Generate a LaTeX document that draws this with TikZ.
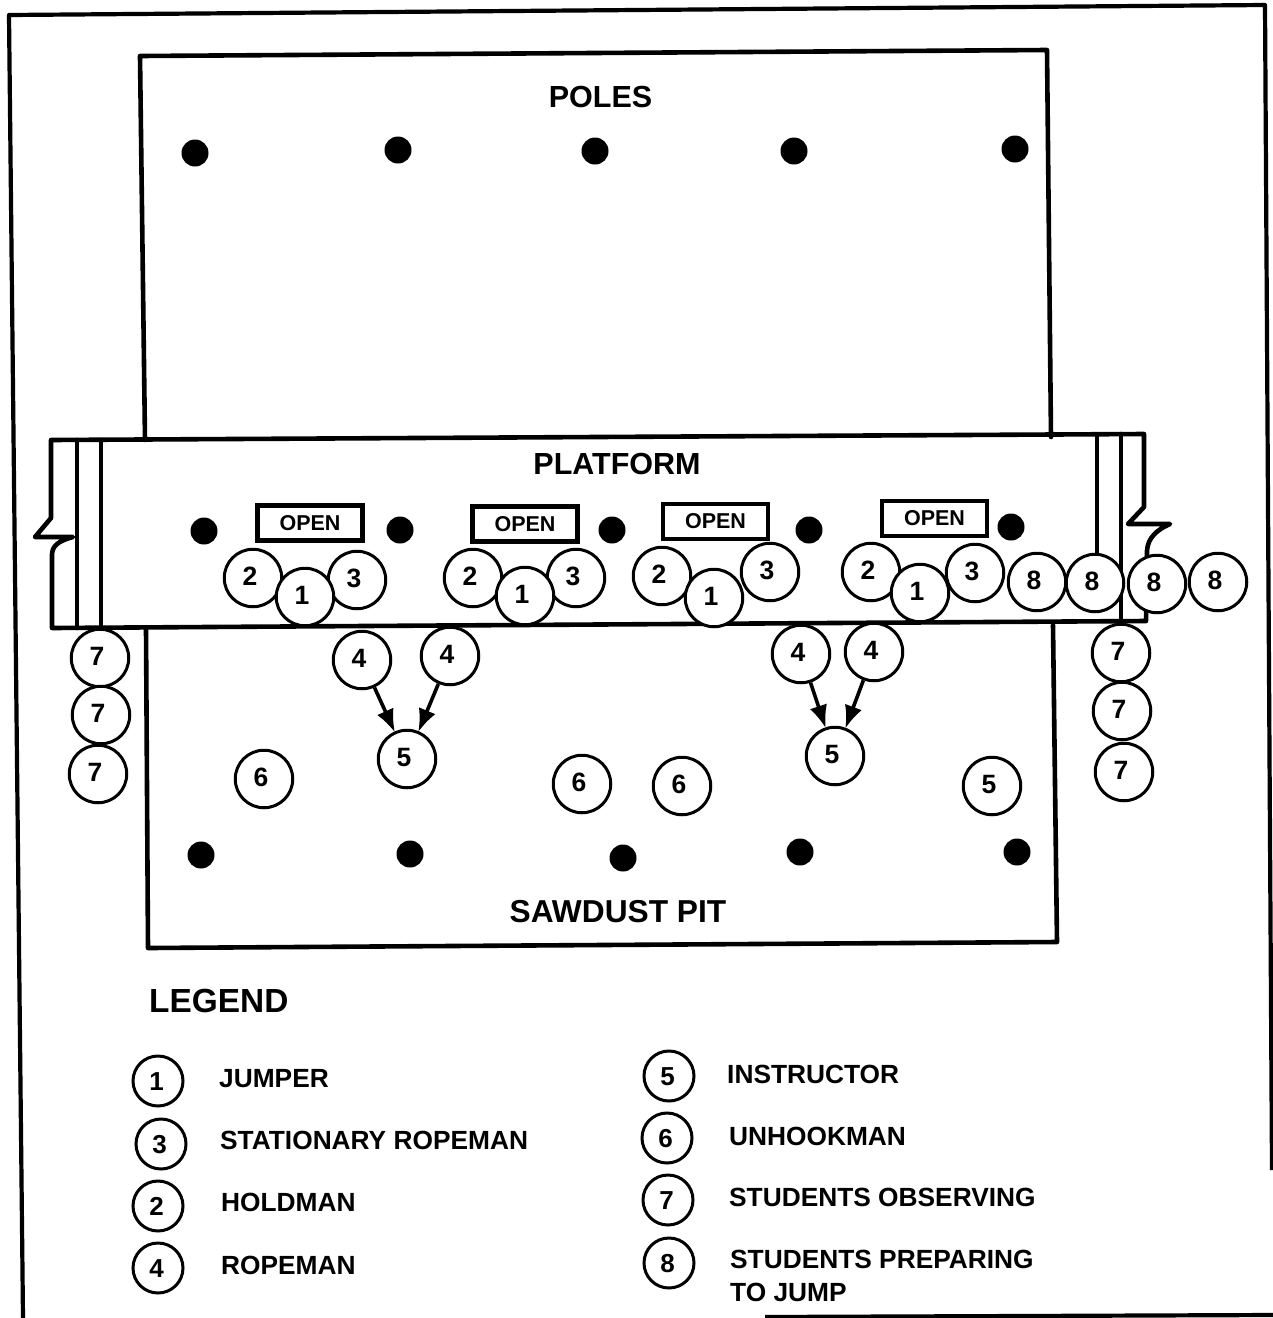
\documentclass[tikz,border=0pt]{standalone}
\usepackage{fontspec}
\setmainfont{Liberation Sans}
\usetikzlibrary{arrows.meta}
\tikzset{
  ink/.style={line width=4.6pt,line join=round,line cap=round,draw=black},
  frameline/.style={line width=4.2pt,draw=black},
  personc/.style={circle,draw=black,fill=white,line width=3pt,minimum size=57.5pt,inner sep=0pt,font=\bfseries\fontsize{26.5}{26.5}\selectfont},
  legendc/.style={circle,draw=black,fill=white,line width=3pt,minimum size=50pt,inner sep=0pt,font=\bfseries\fontsize{26}{26}\selectfont},
  pole/.style={circle,fill=black,minimum size=27pt,inner sep=0pt},
  openbox/.style={rectangle,draw=black,fill=white,line width=4.8pt,minimum width=105pt,minimum height=35pt,inner sep=0pt,font=\bfseries\fontsize{21.5}{21.5}\selectfont},
  title/.style={inner sep=0pt,font=\bfseries\fontsize{30.5}{30.5}\selectfont},
  pittitle/.style={inner sep=0pt,font=\bfseries\fontsize{31.7}{31.7}\selectfont},
  legendhead/.style={inner sep=0pt,anchor=west,font=\bfseries\fontsize{33.4}{33.4}\selectfont},
  legendtext/.style={inner sep=0pt,anchor=west,align=left,font=\bfseries\fontsize{26.3}{33}\selectfont},
  pull/.style={line width=3.6pt,draw=black,-{Latex[length=23pt,width=18pt]},shorten >=-1pt}
}
\newcommand\person[4]{\node[personc] (#1) at (#2,#3) {\kern-3pt\smash{\raisebox{-7pt}{#4}}\kern3pt};}
\newcommand\legendp[4]{\node[legendc] (#1) at (#2,#3) {\kern-1.5pt\smash{\raisebox{-9pt}{#4}}\kern1.5pt};}
\begin{document}
\begin{tikzpicture}[x=1pt,y=-1pt]
\useasboundingbox (0,0) rectangle (1273,1318);
% outer frame
\coordinate (f1) at (23,1318);
\coordinate (f2) at (9,15);
\coordinate (f3) at (1265,5);
\coordinate (f4) at (1272,1170);
\coordinate (f5) at (765,1317);
\coordinate (f6) at (1273,1315);
\draw[frameline,line join=round] (f1) -- (f2) -- (f3) -- (f4);
\draw[frameline] (f5) -- (f6);
% pole area and pit
\draw[ink] (145,440) -- (140,56) -- (1047,50) -- (1051,437);
\draw[ink] (146,628) -- (148,948) -- (1057,942) -- (1053,625);
% platform
\draw[ink] (1144,434) -- (51,440) -- (51,518) -- (35,537) -- (73,537) .. controls (58,541) and (52,546) .. (52,555) -- (52,628) -- (1146,621) -- (1147,556) .. controls (1146,542) and (1152,532) .. (1170,524) -- (1128,524) -- (1144,507) -- cycle;
\draw[ink] (77,440) -- (77,628);
\draw[ink] (101,440) -- (101,628);
\draw[ink] (1097,436) -- (1097,560);
\draw[ink] (1121,434) -- (1121,622);
% text titles
\node[title] (tpoles) at (600.5,97) {POLES};
\node[title] (tplatform) at (617,464) {PLATFORM};
\node[pittitle] (tpit) at (618,912) {SAWDUST PIT};
% poles
\foreach \n/\x/\y in {a/195/153,b/398/150,c/595/151,d/794/151,e/1015/149,
  f/204/531,g/400/530,h/612/530,i/809/530,j/1011/527,
  k/201/855,l/410/854,m/623/858,n/800/852,o/1017/852}
  \node[pole] (pole\n) at (\x,\y) {};
% open boxes
\node[openbox] (open1) at (310,523) {OPEN};
\node[openbox] (open2) at (525,524) {OPEN};
\node[openbox] (open3) at (715.5,521.5) {OPEN};
\node[openbox] (open4) at (934.5,518.5) {OPEN};
% teams on the platform
\person{ta2}{253}{578}{2}\person{ta3}{357}{580}{3}\person{ta1}{305}{597}{1}
\person{tb2}{473}{578}{2}\person{tb3}{576}{578}{3}\person{tb1}{525}{596}{1}
\person{tc2}{662}{576}{2}\person{tc3}{770}{572}{3}\person{tc1}{714}{598}{1}
\person{td2}{871}{572}{2}\person{td3}{975}{573}{3}\person{td1}{920}{593}{1}
\person{e1}{1037}{582}{8}\person{e2}{1095}{583}{8}\person{e3}{1157}{584}{8}\person{e4}{1218}{582}{8}
% observers
\person{la}{100}{658}{7}\person{lb}{101}{715}{7}\person{lc}{98}{774}{7}
\person{ra}{1121}{653}{7}\person{rb}{1122}{711}{7}\person{rc}{1124}{772}{7}
% ropemen and instructors
\person{ra4}{362}{660}{4}\person{rb4}{450}{656}{4}\person{ia}{407}{759}{5}
\person{rc4}{801}{654}{4}\person{rd4}{874}{652}{4}\person{ib}{835}{756}{5}
\draw[pull] (ra4) -- (ia);
\draw[pull] (rb4) -- (ia);
\draw[pull] (rc4) -- (ib);
\draw[pull] (rd4) -- (ib);
% pit
\person{u1}{264}{779}{6}\person{u2}{582}{784}{6}\person{u3}{682}{786}{6}\person{ic}{992}{786}{5}
% legend
\node[legendhead] (tlegend) at (149,1001) {LEGEND};
\legendp{l1}{158}{1081}{1}\node[legendtext] (t1) at (219,1079) {JUMPER};
\legendp{l3}{161}{1144}{3}\node[legendtext] (t3) at (220,1140) {STATIONARY ROPEMAN};
\legendp{l2}{158}{1206}{2}\node[legendtext] (t2) at (221,1202) {HOLDMAN};
\legendp{l4}{158}{1268}{4}\node[legendtext] (t4) at (221,1265) {ROPEMAN};
\legendp{l5}{669}{1076}{5}\node[legendtext] (t5) at (727,1074) {INSTRUCTOR};
\legendp{l6}{667}{1138}{6}\node[legendtext] (t6) at (729,1136) {UNHOOKMAN};
\legendp{l7}{668}{1200}{7}\node[legendtext] (t7) at (729,1197) {STUDENTS OBSERVING};
\legendp{l8}{669}{1263}{8}\node[legendtext] (t8) at (730,1275.5) {STUDENTS PREPARING\\TO JUMP};
\end{tikzpicture}
\end{document}
